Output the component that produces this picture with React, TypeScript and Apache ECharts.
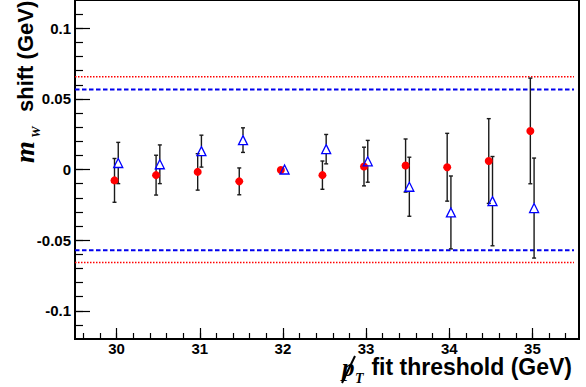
import React, { useEffect, useRef } from "react";
import * as echarts from "echarts";

// pT fit thresholds (GeV)
const thresholds = [30, 30.5, 31, 31.5, 32, 32.5, 33, 33.5, 34, 34.5, 35];
// red filled circles: m_W shift and error (GeV)
const redShift = [-0.0077, -0.004, -0.0017, -0.0084, -0.0003, -0.004, 0.0021, 0.0028, 0.0016, 0.006, 0.0273];
const redErr = [0.0155, 0.0141, 0.0129, 0.0095, 0, 0.01, 0.0137, 0.0188, 0.024, 0.03, 0.0374];
// blue open triangles: m_W shift and error (GeV)
const blueShift = [0.0046, 0.0037, 0.013, 0.0208, 0.0, 0.0144, 0.0058, -0.0122, -0.0304, -0.0224, -0.0273];
const blueErr = [0.0146, 0.0137, 0.0113, 0.0087, 0, 0.0104, 0.0148, 0.0209, 0.0258, 0.0316, 0.0354];
// horizontal reference limits
const redLimits = [0.0657, -0.0658];
const blueLimits = [0.0566, -0.0572];
const limitRange = [29.5, 35.5];
// tick labels
const xMajorTicks = [30, 31, 32, 33, 34, 35];
const yMajorTicks = [-0.1, -0.05, 0, 0.05, 0.1];

const RED_OFFSET = -0.025;
const BLUE_OFFSET = 0.02;

const xMinorTicks: number[] = [];
for (let i = 148; i <= 177; i++) xMinorTicks.push(i / 5);
const yMinorTicks: number[] = [];
for (let i = -11; i <= 11; i++) yMinorTicks.push(i / 100);

const SANS = "Liberation Sans, Arial, sans-serif";
const SERIF = "Liberation Serif, Times New Roman, serif";

function errRender(hollowGap: number) {
  return (params: any, api: any) => {
    const x = api.value(0);
    const y = api.value(1);
    const e = api.value(2);
    if (!e) return { type: "group", children: [] };
    const top = api.coord([x, y + e]);
    const bot = api.coord([x, y - e]);
    const c = api.coord([x, y]);
    const style = { stroke: "#1a1a1a", lineWidth: 1.4 };
    const children: any[] = [];
    if (hollowGap > 0) {
      children.push({ type: "line", shape: { x1: top[0], y1: top[1], x2: c[0], y2: c[1] - hollowGap }, style });
      children.push({ type: "line", shape: { x1: c[0], y1: c[1] + hollowGap, x2: bot[0], y2: bot[1] }, style });
    } else {
      children.push({ type: "line", shape: { x1: top[0], y1: top[1], x2: bot[0], y2: bot[1] }, style });
    }
    children.push({ type: "line", shape: { x1: top[0] - 2, y1: top[1], x2: top[0] + 2, y2: top[1] }, style });
    children.push({ type: "line", shape: { x1: bot[0] - 2, y1: bot[1], x2: bot[0] + 2, y2: bot[1] }, style });
    return { type: "group", children };
  };
}

function limitSeries(v: number, color: string, dash: number[], width: number) {
  return {
    type: "line",
    data: [[limitRange[0], v], [limitRange[1], v]],
    symbol: "none",
    silent: true,
    lineStyle: { color, type: dash, width },
    z: 1,
  };
}

export default function App() {
  const ref = useRef<HTMLDivElement>(null);
  useEffect(() => {
    const chart = echarts.init(ref.current!, null, { renderer: "svg" });
    const fmtY = (v: number) => String(Math.round(v * 100) / 100);
    const option: any = {
      animation: false,
      backgroundColor: "#ffffff",
      grid: {
        left: 75,
        right: 7,
        top: -3,
        bottom: 48,
        show: true,
        borderColor: "#000",
        borderWidth: 2,
        backgroundColor: "transparent",
      },
      xAxis: [
        {
          type: "value",
          min: 29.5,
          max: 35.56,
          position: "bottom",
          axisLine: { show: true, onZero: false, lineStyle: { color: "#000", width: 2 } },
          axisTick: { show: true, inside: true, length: 11, customValues: xMajorTicks, lineStyle: { color: "#000", width: 1.2 } },
          axisLabel: {
            show: true,
            customValues: xMajorTicks,
            margin: 2,
            color: "#000",
            fontFamily: SANS,
            fontWeight: "bold",
            fontSize: 15,
            lineHeight: 15,
            formatter: (v: number) => String(v),
          },
          splitLine: { show: false },
        },
        {
          type: "value",
          min: 29.5,
          max: 35.56,
          position: "bottom",
          axisLine: { show: false, onZero: false },
          axisTick: { show: true, inside: true, length: 6, customValues: xMinorTicks, lineStyle: { color: "#000", width: 1.2 } },
          axisLabel: { show: false },
          splitLine: { show: false },
        },
      ],
      yAxis: [
        {
          type: "value",
          min: -0.12,
          max: 0.12,
          position: "left",
          axisLine: { show: true, onZero: false, lineStyle: { color: "#000", width: 2 } },
          axisTick: { show: true, inside: true, length: 15, customValues: yMajorTicks, lineStyle: { color: "#000", width: 1.2 } },
          axisLabel: {
            show: true,
            customValues: yMajorTicks,
            margin: 4,
            color: "#000",
            fontFamily: SANS,
            fontWeight: "bold",
            fontSize: 15,
            formatter: fmtY,
          },
          splitLine: { show: false },
        },
        {
          type: "value",
          min: -0.12,
          max: 0.12,
          position: "left",
          axisLine: { show: false, onZero: false },
          axisTick: { show: true, inside: true, length: 8, customValues: yMinorTicks, lineStyle: { color: "#000", width: 1.2 } },
          axisLabel: { show: false },
          splitLine: { show: false },
        },
      ],
      series: [
        limitSeries(redLimits[0], "#ff0000", [1.5, 1.5], 1.5),
        limitSeries(redLimits[1], "#ff0000", [1.5, 1.5], 1.5),
        limitSeries(blueLimits[0], "#0000ee", [4.5, 2.5], 2),
        limitSeries(blueLimits[1], "#0000ee", [4.5, 2.5], 2),
        {
          type: "custom",
          renderItem: errRender(0),
          data: thresholds.map((t, i) => [t + RED_OFFSET, redShift[i], redErr[i]]),
          encode: { x: 0, y: 1 },
          silent: true,
          z: 2,
        },
        {
          type: "custom",
          renderItem: errRender(4.5),
          data: thresholds.map((t, i) => [t + BLUE_OFFSET, blueShift[i], blueErr[i]]),
          encode: { x: 0, y: 1 },
          silent: true,
          z: 2,
        },
        {
          type: "scatter",
          data: thresholds.map((t, i) => [t + RED_OFFSET, redShift[i]]),
          symbol: "circle",
          symbolSize: 8,
          itemStyle: { color: "#ff0000", opacity: 1 },
          z: 3,
        },
        {
          type: "scatter",
          data: thresholds.map((t, i) => [t + BLUE_OFFSET, blueShift[i]]),
          symbol: "triangle",
          symbolSize: 9,
          itemStyle: { color: "rgba(0,0,0,0)", borderColor: "#0000ff", borderWidth: 1.3, opacity: 1 },
          z: 4,
        },
      ],
      graphic: [
        {
          type: "group",
          x: 33,
          y: 163,
          rotation: Math.PI / 2,
          children: [
            {
              type: "text",
              x: 0,
              y: -9,
              style: { text: "m", font: `italic bold 28px ${SERIF}`, fill: "#000", textAlign: "left", textVerticalAlign: "middle" },
            },
            {
              type: "text",
              x: 25,
              y: 2,
              style: { text: "W", font: `italic bold 13px ${SERIF}`, fill: "#000", textAlign: "left", textVerticalAlign: "middle" },
            },
            {
              type: "text",
              x: 51,
              y: -8,
              style: { text: "shift (GeV)", font: `bold 22px ${SANS}`, fill: "#000", textAlign: "left", textVerticalAlign: "middle", lineHeight: 18 },
            },
          ],
        },
        {
          type: "text",
          x: 572,
          y: 367,
          style: { text: "fit threshold (GeV)", font: `bold 23px ${SANS}`, fill: "#000", textAlign: "right", textVerticalAlign: "middle", lineHeight: 17 },
        },
        {
          type: "text",
          x: 342,
          y: 367,
          style: { text: "p", font: `italic bold 25px ${SERIF}`, fill: "#000", textAlign: "left", textVerticalAlign: "middle", lineHeight: 17 },
        },
        {
          type: "text",
          x: 355,
          y: 378,
          style: { text: "T", font: `italic bold 14px ${SERIF}`, fill: "#000", textAlign: "left", textVerticalAlign: "middle" },
        },
        {
          type: "line",
          shape: { x1: 342, y1: 383, x2: 355, y2: 356 },
          style: { stroke: "#000", lineWidth: 2 },
        },
      ],
    };
    chart.setOption(option);
    return () => chart.dispose();
  }, []);
  return <div ref={ref} style={{ position: "fixed", left: 0, top: 0, width: 586, height: 387 }} />;
}
